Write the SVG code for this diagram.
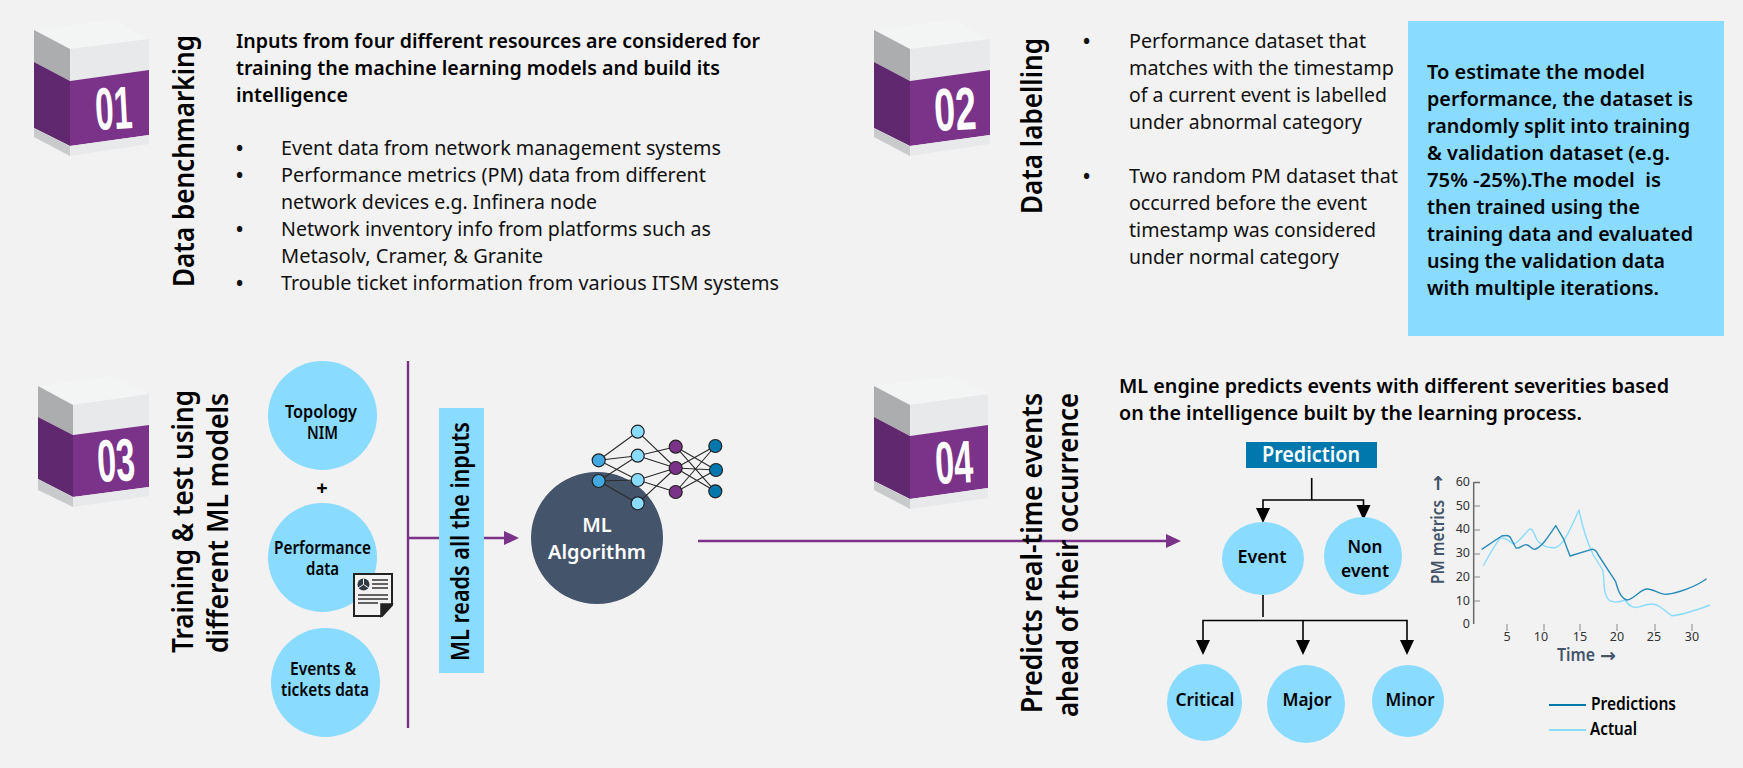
<svg xmlns="http://www.w3.org/2000/svg" width="1743" height="768" viewBox="0 0 1743 768">
<style>
text{font-family:"Noto Sans","Open Sans","DejaVu Sans",sans-serif;fill:#000}
.b{font-size:20px;font-weight:400;fill:#111}
.u{font-size:19px;font-weight:700;fill:#111}
.s{font-size:20px;font-weight:600}
.sb{font-size:17px;font-weight:600}
.r{font-size:29px;font-weight:600}
.n{font-family:"Liberation Sans Narrow","Liberation Sans",sans-serif;font-size:60px;font-weight:700;fill:#fff}
.t{fill:#F3F4F4}.l{fill:#ABADAF}.f{fill:#E8E9EB}.p{fill:#7B3289}.d{fill:#60296F}.g{fill:#C9CACC}
.c{fill:#89DBFF}
.pl{stroke:#7B3289;stroke-width:2.4;fill:none}
.bk{stroke:#000;stroke-width:1.6;fill:none}
.nn{stroke:#2b2b2b;stroke-width:1.1;fill:none}
.nd{stroke:#222;stroke-width:1.2}
.ax{font-size:12.5px;fill:#333}
.tk{stroke:#8a8a8a;stroke-width:1}
.h{fill:#44546A;font-weight:600;font-size:17px}
.ar{font-family:"DejaVu Sans",sans-serif;fill:#44546A;font-weight:700;font-size:19px}
</style>
<rect width="1743" height="768" fill="#F2F2F2"/>

<g id="cube-01">
<polygon class="t" points="34,30 113,20 149,39 70,49"/>
<polygon class="l" points="34,30 70,49 70,81 34,62"/>
<polygon class="f" points="70,49 149,39 149,70 70,81"/>
<polygon class="d" points="34,62 70,81 70,146 34,128"/>
<polygon class="p" points="70,81 149,70 149,135 70,146"/>
<polygon class="g" points="34,128 70,146 70,156 34,137"/>
<polygon class="f" points="70,146 149,135 149,144 70,156"/>
<text class="n" x="95" y="129" textLength="37" lengthAdjust="spacingAndGlyphs" transform="rotate(-3 113 107)">01</text>
</g>
<g id="title-01"><text class="r" transform="translate(194 287) rotate(-90)" textLength="252" lengthAdjust="spacingAndGlyphs">Data benchmarking</text></g>
<g id="text-01">
<text class="s" x="236" y="48" textLength="524" lengthAdjust="spacingAndGlyphs">Inputs from four different resources are considered for</text>
<text class="s" x="236" y="75" textLength="484" lengthAdjust="spacingAndGlyphs">training the machine learning models and build its</text>
<text class="s" x="236" y="102" textLength="112" lengthAdjust="spacingAndGlyphs">intelligence</text>
<text class="u" x="236" y="155">•</text>
<text class="b" x="281" y="155" textLength="440" lengthAdjust="spacingAndGlyphs">Event data from network management systems</text>
<text class="u" x="236" y="182">•</text>
<text class="b" x="281" y="182" textLength="425" lengthAdjust="spacingAndGlyphs">Performance metrics (PM) data from different</text>
<text class="b" x="281" y="209" textLength="316" lengthAdjust="spacingAndGlyphs">network devices e.g. Infinera node</text>
<text class="u" x="236" y="236">•</text>
<text class="b" x="281" y="236" textLength="430" lengthAdjust="spacingAndGlyphs">Network inventory info from platforms such as</text>
<text class="b" x="281" y="263" textLength="262" lengthAdjust="spacingAndGlyphs">Metasolv, Cramer, &amp; Granite</text>
<text class="u" x="236" y="290">•</text>
<text class="b" x="281" y="290" textLength="498" lengthAdjust="spacingAndGlyphs">Trouble ticket information from various ITSM systems</text>
</g>

<g id="cube-02">
<polygon class="t" points="874,30 953,20 990,39 910,49"/>
<polygon class="l" points="874,30 910,49 910,81 874,62"/>
<polygon class="f" points="910,49 990,39 990,70 910,81"/>
<polygon class="d" points="874,62 910,81 910,146 874,128"/>
<polygon class="p" points="910,81 990,70 990,135 910,146"/>
<polygon class="g" points="874,128 910,146 910,156 874,137"/>
<polygon class="f" points="910,146 990,135 990,144 910,156"/>
<text class="n" x="934" y="130" textLength="42" lengthAdjust="spacingAndGlyphs" transform="rotate(-3 955 108)">02</text>
</g>
<g id="title-02"><text class="r" transform="translate(1042 214) rotate(-90)" textLength="176" lengthAdjust="spacingAndGlyphs">Data labelling</text></g>
<g id="text-02">
<text class="u" x="1083" y="48">•</text>
<text class="b" x="1129" y="48" textLength="237" lengthAdjust="spacingAndGlyphs">Performance dataset that</text>
<text class="b" x="1129" y="75" textLength="265" lengthAdjust="spacingAndGlyphs">matches with the timestamp</text>
<text class="b" x="1129" y="102" textLength="258" lengthAdjust="spacingAndGlyphs">of a current event is labelled</text>
<text class="b" x="1129" y="129" textLength="233" lengthAdjust="spacingAndGlyphs">under abnormal category</text>
<text class="u" x="1083" y="183">•</text>
<text class="b" x="1129" y="183" textLength="269" lengthAdjust="spacingAndGlyphs">Two random PM dataset that</text>
<text class="b" x="1129" y="210" textLength="238" lengthAdjust="spacingAndGlyphs">occurred before the event</text>
<text class="b" x="1129" y="237" textLength="247" lengthAdjust="spacingAndGlyphs">timestamp was considered</text>
<text class="b" x="1129" y="264" textLength="210" lengthAdjust="spacingAndGlyphs">under normal category</text>
</g>
<g id="note">
<rect class="c" x="1408" y="21" width="316" height="315"/>
<text class="s" x="1427" y="79" textLength="218" lengthAdjust="spacingAndGlyphs">To estimate the model</text>
<text class="s" x="1427" y="106" textLength="266" lengthAdjust="spacingAndGlyphs">performance, the dataset is</text>
<text class="s" x="1427" y="133" textLength="263" lengthAdjust="spacingAndGlyphs">randomly split into training</text>
<text class="s" x="1427" y="160" textLength="243" lengthAdjust="spacingAndGlyphs">&amp; validation dataset (e.g.</text>
<text class="s" x="1427" y="187" textLength="234" lengthAdjust="spacingAndGlyphs" xml:space="preserve">75% -25%).The model  is</text>
<text class="s" x="1427" y="214" textLength="213" lengthAdjust="spacingAndGlyphs">then trained using the</text>
<text class="s" x="1427" y="241" textLength="266" lengthAdjust="spacingAndGlyphs">training data and evaluated</text>
<text class="s" x="1427" y="268" textLength="238" lengthAdjust="spacingAndGlyphs">using the validation data</text>
<text class="s" x="1427" y="295" textLength="232" lengthAdjust="spacingAndGlyphs">with multiple iterations.</text>
</g>

<g id="cube-03">
<polygon class="t" points="38,386 113,376 149,394 73,405"/>
<polygon class="l" points="38,386 73,405 73,435 38,417"/>
<polygon class="f" points="73,405 149,394 149,425 73,435"/>
<polygon class="d" points="38,417 73,435 73,497 38,479"/>
<polygon class="p" points="73,435 149,425 149,487 73,497"/>
<polygon class="g" points="38,479 73,497 73,507 38,490"/>
<polygon class="f" points="73,497 149,487 149,496 73,507"/>
<text class="n" x="97" y="481" textLength="38" lengthAdjust="spacingAndGlyphs" transform="rotate(-3 116 460)">03</text>
</g>
<g id="title-03">
<text class="r" transform="translate(193 653) rotate(-90)" textLength="263" lengthAdjust="spacingAndGlyphs">Training &amp; test using</text>
<text class="r" transform="translate(228 653) rotate(-90)" textLength="260" lengthAdjust="spacingAndGlyphs">different ML models</text>
</g>
<g id="node-topology">
<circle class="c" cx="322.5" cy="415.5" r="54.5"/>
<text class="sb" x="321" y="418" text-anchor="middle" textLength="72" lengthAdjust="spacingAndGlyphs">Topology</text>
<text class="sb" x="322.5" y="439" text-anchor="middle" textLength="31" lengthAdjust="spacingAndGlyphs">NIM</text>
</g>
<g id="plus"><text x="322" y="495" text-anchor="middle" font-size="20" font-weight="700">+</text></g>
<g id="node-performance">
<circle class="c" cx="322.5" cy="557.5" r="54.5"/>
<text class="sb" x="322.5" y="554" text-anchor="middle" textLength="97" lengthAdjust="spacingAndGlyphs">Performance</text>
<text class="sb" x="322.5" y="575" text-anchor="middle" textLength="33" lengthAdjust="spacingAndGlyphs">data</text>
</g>
<g id="doc-icon">
<path d="M354 574H392V605L382 616H354Z" fill="#F2F2F2" stroke="#222" stroke-width="2"/>
<path d="M381 616V604H392Z" fill="#222" stroke="#222" stroke-width="1.5"/>
<circle cx="363.5" cy="584.5" r="6" fill="#2F3A44"/>
<path d="M363.5 584.5V578.5M363.5 584.5L358 588M363.5 584.5L369 588" stroke="#F2F2F2" stroke-width="1"/>
<path d="M372 580H388M372 584H388M372 588H388M358 595H388M358 599H388M358 603H378" stroke="#333" stroke-width="1.4" fill="none"/>
</g>
<g id="node-events">
<circle class="c" cx="325.5" cy="682.5" r="54.5"/>
<text class="sb" x="323" y="675" text-anchor="middle" textLength="66" lengthAdjust="spacingAndGlyphs">Events &amp;</text>
<text class="sb" x="325" y="696" text-anchor="middle" textLength="88" lengthAdjust="spacingAndGlyphs">tickets data</text>
</g>
<g id="ml-reads">
<rect class="c" x="439" y="408" width="45" height="265"/>
<text transform="translate(469 661) rotate(-90)" font-size="25" font-weight="600" textLength="239" lengthAdjust="spacingAndGlyphs">ML reads all the inputs</text>
</g>

<g id="connectors">
<path class="pl" d="M408 361V728M408 538H439M484 538H506"/>
<polygon fill="#7B3289" points="504,531 519,538 504,545"/>
<path class="pl" d="M698 541H1168"/>
<polygon fill="#7B3289" points="1166,534 1181,541 1166,548"/>
<path class="bk" d="M1311.7 478V500M1263 509V500H1363.5V506"/>
<polygon points="1256,508 1270,508 1263,523"/>
<polygon points="1356.5,505 1370.5,505 1363.5,520"/>
<path class="bk" d="M1263 595V617M1203 641V620.500H1407V641M1303 620.500V641"/>
<polygon points="1196,640 1210,640 1203,655"/>
<polygon points="1296,640 1310,640 1303,655"/>
<polygon points="1400,640 1414,640 1407,655"/>
</g>

<g id="ml-algorithm">
<circle cx="597" cy="538" r="66" fill="#44546A"/>
<text x="597" y="532" text-anchor="middle" font-size="20" font-weight="600" style="fill:#fff">ML</text>
<text x="597" y="559" text-anchor="middle" font-size="20" font-weight="600" style="fill:#fff" textLength="98" lengthAdjust="spacingAndGlyphs">Algorithm</text>
</g>
<g id="neural-net">
<path class="nn" d="M598.700 460.300L637.700 431.700M598.700 460.300L637.700 455.700M598.700 460.300L637.700 480M598.700 481L637.700 455.700M598.700 481L637.700 480M598.700 481L637.700 503.300M637.700 431.700L675.700 468M637.700 455.700L675.700 446.700M637.700 455.700L675.700 468M637.700 480L675.700 468M637.700 480L675.700 492M637.700 503.300L675.700 468M675.700 446.700L716 470M675.700 446.700L715.300 491.300M675.700 468L715.300 446M675.700 468L716 470M675.700 468L715.300 491.300M675.700 492L715.300 446M675.700 492L716 470"/>
<g class="nd" fill="#41A8E0"><circle cx="598.700" cy="460.300" r="6.500"/><circle cx="598.700" cy="481" r="6.500"/></g>
<g class="nd" fill="#89DBFF"><circle cx="637.700" cy="431.700" r="6.500"/><circle cx="637.700" cy="455.700" r="6.500"/><circle cx="637.700" cy="480" r="6.500"/><circle cx="637.700" cy="503.300" r="6.500"/></g>
<g class="nd" fill="#7B3289"><circle cx="675.700" cy="446.700" r="6.500"/><circle cx="675.700" cy="468" r="6.500"/><circle cx="675.700" cy="492" r="6.500"/></g>
<g class="nd" fill="#0078AE"><circle cx="715.300" cy="446" r="6.500"/><circle cx="716" cy="470" r="6.500"/><circle cx="715.300" cy="491.300" r="6.500"/></g>
</g>

<g id="cube-04">
<polygon class="t" points="874,386 952,376 988,394 910,405"/>
<polygon class="l" points="874,386 910,405 910,436 874,417"/>
<polygon class="f" points="910,405 988,394 988,425 910,436"/>
<polygon class="d" points="874,417 910,436 910,499 874,481"/>
<polygon class="p" points="910,436 988,425 988,488 910,499"/>
<polygon class="g" points="874,481 910,499 910,509 874,490"/>
<polygon class="f" points="910,499 988,488 988,498 910,509"/>
<text class="n" x="935" y="483" textLength="38" lengthAdjust="spacingAndGlyphs" transform="rotate(-3 954 462)">04</text>
</g>
<g id="title-04">
<text class="r" transform="translate(1042 713) rotate(-90)" textLength="320" lengthAdjust="spacingAndGlyphs">Predicts real-time events</text>
<text class="r" transform="translate(1078 717) rotate(-90)" textLength="324" lengthAdjust="spacingAndGlyphs">ahead of their occurrence</text>
</g>
<g id="text-04">
<text class="s" x="1119" y="393" textLength="550" lengthAdjust="spacingAndGlyphs">ML engine predicts events with different severities based</text>
<text class="s" x="1119" y="420" textLength="463" lengthAdjust="spacingAndGlyphs">on the intelligence built by the learning process.</text>
</g>
<g id="node-prediction">
<rect x="1246" y="442" width="131" height="26" fill="#0078AE"/>
<text x="1311" y="462" text-anchor="middle" font-size="21" font-weight="600" style="fill:#fff" textLength="98" lengthAdjust="spacingAndGlyphs">Prediction</text>
</g>
<g id="node-event">
<ellipse class="c" cx="1263" cy="558.500" rx="41" ry="36.500"/>
<text class="sb" x="1262" y="563" text-anchor="middle" textLength="49" lengthAdjust="spacingAndGlyphs">Event</text>
</g>
<g id="node-nonevent">
<circle class="c" cx="1363" cy="556" r="39"/>
<text class="sb" x="1365" y="553" text-anchor="middle" textLength="35" lengthAdjust="spacingAndGlyphs">Non</text>
<text class="sb" x="1365" y="577" text-anchor="middle" textLength="48" lengthAdjust="spacingAndGlyphs">event</text>
</g>
<g id="node-critical">
<ellipse class="c" cx="1204.500" cy="702.500" rx="37.500" ry="38.500"/>
<text class="sb" x="1205" y="706" text-anchor="middle" textLength="59" lengthAdjust="spacingAndGlyphs">Critical</text>
</g>
<g id="node-major">
<circle class="c" cx="1306" cy="704" r="39"/>
<text class="sb" x="1307" y="706" text-anchor="middle" textLength="49" lengthAdjust="spacingAndGlyphs">Major</text>
</g>
<g id="node-minor">
<circle class="c" cx="1408" cy="701" r="36"/>
<text class="sb" x="1410" y="706" text-anchor="middle" textLength="49" lengthAdjust="spacingAndGlyphs">Minor</text>
</g>

<g id="chart">
<path d="M1473.700 482V624M1473.700 482.500H1480" stroke="#6b6b6b" stroke-width="1.500" fill="none"/>
<path class="tk" d="M1474 506H1480M1474 530H1480M1474 554H1480M1474 577H1480M1474 601H1480M1507 624V631M1544 624V631M1580 624V631M1617 624V631M1655 624V631M1692 624V631"/>
<g text-anchor="end">
<text class="ax" x="1470" y="486">60</text><text class="ax" x="1470" y="510">50</text><text class="ax" x="1470" y="533">40</text><text class="ax" x="1470" y="557">30</text><text class="ax" x="1470" y="581">20</text><text class="ax" x="1470" y="605">10</text><text class="ax" x="1470" y="628">0</text>
</g>
<g text-anchor="middle">
<text class="ax" x="1507" y="641">5</text><text class="ax" x="1541" y="641">10</text><text class="ax" x="1580" y="641">15</text><text class="ax" x="1617" y="641">20</text><text class="ax" x="1654" y="641">25</text><text class="ax" x="1692" y="641">30</text>
</g>
<text class="h" x="1557" y="661" textLength="38" lengthAdjust="spacingAndGlyphs">Time</text>
<text class="ar" x="1600" y="662">→</text>
<text class="h" transform="translate(1444 584) rotate(-90)" textLength="84" lengthAdjust="spacingAndGlyphs">PM metrics</text>
<text class="ar" transform="translate(1444 491) rotate(-90)">→</text>
<path fill="none" stroke="#89DBFF" stroke-width="1.400" stroke-linejoin="round" d="M1483.300 565.700C1488 557 1492 549 1500 538.300C1503 536.500 1510 541 1513.300 544C1519 543 1525 533 1529.300 529.300C1534 527.500 1534 537 1538.300 541.700C1543 546 1549 548 1555 547.700C1564 546 1572 525 1579 510C1582 525 1586 540 1593.300 555L1602.700 570C1605 580 1602 595 1610 600.700C1615 603.500 1620 602 1625 600C1629 606 1633 609 1640 606.700C1650 603 1655 603 1660 606.700L1671.700 615.700C1680 615.500 1700 609 1710 605"/>
<path fill="none" stroke="#2A8BB8" stroke-width="1.400" stroke-linejoin="round" d="M1481.700 549.300L1501.700 536C1507 535 1510 535 1511.700 540L1516 548C1520 549 1523 544 1526.700 544.700C1530 545 1532 550 1535 549.300C1542 547 1548 537 1555.700 525.700L1563.300 538.300L1570 556L1591.700 549.300C1595 549 1597 552 1598.300 555L1615.700 581.700C1618 590 1620 597 1626.700 600C1635 599 1640 589 1647.300 589C1654 589 1660 595 1666.700 594.300C1678 593 1695 587 1706.700 578.700"/>
</g>
<g id="legend">
<path d="M1549 705H1586" stroke="#0078AE" stroke-width="2" fill="none"/>
<path d="M1549 730H1586" stroke="#89DBFF" stroke-width="2" fill="none"/>
<text class="sb" x="1591" y="710" textLength="85" lengthAdjust="spacingAndGlyphs">Predictions</text>
<text class="sb" x="1590" y="735" textLength="47" lengthAdjust="spacingAndGlyphs">Actual</text>
</g>
</svg>
